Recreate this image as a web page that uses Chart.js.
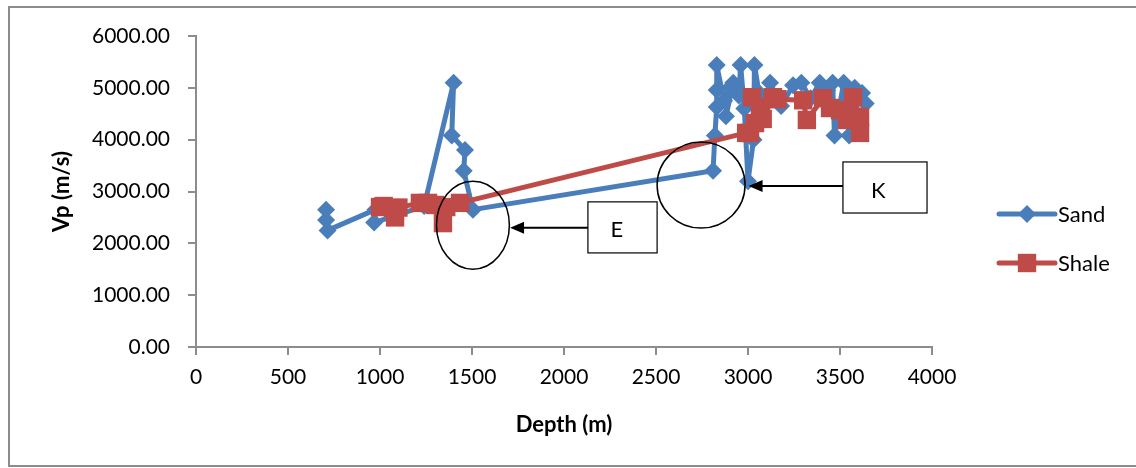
<!DOCTYPE html>
<html>
<head>
<meta charset="utf-8">
<title>Vp vs Depth</title>
<script src="https://cdn.jsdelivr.net/npm/chart.js@4.4.0/dist/chart.umd.min.js"></script>
<style>
  html, body { margin: 0; padding: 0; background: #fff; }
  #wrap { width: 1136px; height: 468px; }
</style>
</head>
<body>
<div id="wrap"><canvas id="vpChart" width="1136" height="468"></canvas></div>
<script>
// depth (m) and P-wave velocity (m/s) per lithology
const sandDepth = [707, 707, 715, 975, 968, 1240, 1400, 1390, 1462, 1455, 1505,
    2810, 2820, 2830, 2830, 2830, 2870, 2900, 2880, 2920, 2950, 2960, 2980, 3000,
    3030, 3035, 3060, 3090, 3120, 3180, 3245, 3290, 3340, 3390, 3430, 3460, 3470,
    3520, 3550, 3580, 3620, 3640];
const sandVp = [2650, 2450, 2250, 2650, 2400, 2720, 5100, 4080, 3800, 3400, 2650,
    3400, 4080, 4630, 4960, 5440, 4750, 5000, 4450, 5100, 4850, 5440, 4600, 3200,
    4000, 5440, 4900, 4750, 5100, 4650, 5050, 5100, 4800, 5100, 4950, 5100, 4080,
    5100, 4080, 5000, 4900, 4700];

const shaleDepth = [1000, 1020, 1071, 1082, 1100, 1217, 1261, 1300, 1342, 1360, 1435,
    2990, 3011, 3038, 3022, 3065, 3080, 3136, 3160, 3300, 3320, 3408, 3446, 3500,
    3538, 3571, 3609, 3609];
const shaleVp = [2700, 2720, 2680, 2500, 2690, 2780, 2780, 2740, 2390, 2700, 2780,
    4130, 4130, 4320, 4820, 4630, 4400, 4820, 4780, 4760, 4380, 4800, 4610, 4570,
    4380, 4820, 4440, 4130];

const depthTicks = [0, 500, 1000, 1500, 2000, 2500, 3000, 3500, 4000];
const vpTicks = [0, 1000, 2000, 3000, 4000, 5000, 6000];

// marked intervals: ellipse around the zone, label box and arrow pointing at it
const zones = [
    { label: 'E', cx: 1505, cy: 2350, rx: 198, ry: 850,
      box: [2130, 2800, 2506, 1815], arrowVp: 2300, tipDepth: 1707 },
    { label: 'K', cx: 2745, cy: 3125, rx: 239, ry: 830,
      box: [3516, 3570, 3973, 2585], arrowVp: 3106, tipDepth: 3003 }
];

const BLUE = '#4a7ebb';
const RED = '#be4b48';
const FONT = 'Lato, "Liberation Sans", sans-serif';

function pairs(xs, ys) {
    return xs.map((x, i) => ({ x: x, y: ys[i] }));
}

const framePlugin = {
    id: 'frame',
    beforeDraw(chart) {
        const ctx = chart.ctx;
        ctx.save();
        ctx.fillStyle = '#fff';
        ctx.fillRect(0, 0, chart.width, chart.height);
        ctx.strokeStyle = '#8c8c8c';
        ctx.lineWidth = 2;
        ctx.strokeRect(9, 7, chart.width + 10, chart.height - 9);
        ctx.restore();
    }
};

const zonePlugin = {
    id: 'zones',
    afterDatasetsDraw(chart) {
        const ctx = chart.ctx;
        const xs = chart.scales.x, ys = chart.scales.y;
        ctx.save();
        zones.forEach(z => {
            const cx = xs.getPixelForValue(z.cx), cy = ys.getPixelForValue(z.cy);
            const rx = xs.getPixelForValue(z.cx + z.rx) - cx;
            const ry = cy - ys.getPixelForValue(z.cy + z.ry);
            ctx.strokeStyle = '#000';
            ctx.lineWidth = 1.5;
            ctx.beginPath();
            ctx.ellipse(cx, cy, rx, ry, 0, 0, Math.PI * 2);
            ctx.stroke();

            const bx1 = xs.getPixelForValue(z.box[0]), by1 = ys.getPixelForValue(z.box[1]);
            const bx2 = xs.getPixelForValue(z.box[2]), by2 = ys.getPixelForValue(z.box[3]);
            ctx.fillStyle = '#fff';
            ctx.fillRect(bx1, by1, bx2 - bx1, by2 - by1);
            ctx.lineWidth = 1.2;
            ctx.strokeRect(bx1, by1, bx2 - bx1, by2 - by1);
            ctx.fillStyle = '#000';
            ctx.font = '22px ' + FONT;
            ctx.textAlign = 'center';
            ctx.textBaseline = 'middle';
            ctx.fillText(z.label, bx1 + (bx2 - bx1) * 0.42, (by1 + by2) / 2 + 3);

            // arrow from the box to the ellipse
            const ay = ys.getPixelForValue(z.arrowVp);
            const tip = xs.getPixelForValue(z.tipDepth);
            ctx.lineWidth = 2;
            ctx.beginPath();
            ctx.moveTo(bx1, ay);
            ctx.lineTo(tip + 12, ay);
            ctx.stroke();
            ctx.beginPath();
            ctx.moveTo(tip, ay);
            ctx.lineTo(tip + 14, ay - 6);
            ctx.lineTo(tip + 14, ay + 6);
            ctx.closePath();
            ctx.fill();
        });
        ctx.restore();
    }
};

const legendPlugin = {
    id: 'sideLegend',
    afterDraw(chart) {
        const ctx = chart.ctx;
        const x0 = 999, x1 = 1055;
        ctx.save();
        chart.data.datasets.forEach((ds, i) => {
            const y = 214 + i * 49;
            ctx.strokeStyle = ds.borderColor;
            ctx.lineWidth = 5;
            ctx.lineCap = 'round';
            ctx.beginPath();
            ctx.moveTo(x0, y);
            ctx.lineTo(x1, y);
            ctx.stroke();
            ctx.fillStyle = ds.backgroundColor;
            Chart.helpers.drawPoint(ctx, {
                pointStyle: ds.pointStyle, radius: ds.pointRadius, borderWidth: 0
            }, (x0 + x1) / 2, y);
            ctx.fillStyle = '#000';
            ctx.font = '22px ' + FONT;
            ctx.textAlign = 'left';
            ctx.textBaseline = 'middle';
            ctx.fillText(ds.label, x1 + 3, y + 1);
        });
        ctx.restore();
    }
};

const tickFont = { family: FONT, size: 21 };
const titleFont = { family: FONT, size: 22, weight: 'bold' };

new Chart(document.getElementById('vpChart'), {
    type: 'scatter',
    data: {
        datasets: [
            {
                label: 'Sand',
                data: pairs(sandDepth, sandVp),
                showLine: true,
                borderColor: BLUE,
                backgroundColor: BLUE,
                borderWidth: 5,
                borderJoinStyle: 'round',
                pointStyle: 'rectRot',
                pointRadius: 9,
                pointBorderWidth: 0,
                order: 1
            },
            {
                label: 'Shale',
                data: pairs(shaleDepth, shaleVp),
                showLine: true,
                borderColor: RED,
                backgroundColor: RED,
                borderWidth: 5,
                borderJoinStyle: 'round',
                pointStyle: 'rect',
                pointRadius: 13,
                pointBorderWidth: 0,
                order: 0
            }
        ]
    },
    options: {
        responsive: false,
        animation: false,
        layout: { padding: { left: 40, top: 36, right: 204, bottom: 30 } },
        plugins: {
            legend: { display: false },
            tooltip: { enabled: false }
        },
        scales: {
            x: {
                type: 'linear',
                min: 0,
                max: 4000,
                afterBuildTicks: axis => { axis.ticks = depthTicks.map(v => ({ value: v })); },
                afterFit: axis => { axis.height = 468 - 30 - 347; },
                grid: { drawOnChartArea: false, tickLength: 8, color: '#8c8c8c', lineWidth: 2 },
                border: { color: '#8c8c8c', width: 2 },
                ticks: { font: tickFont, color: '#000', padding: 10, maxRotation: 0, autoSkip: false,
                         callback: v => String(v) },
                title: { display: true, text: 'Depth (m)', font: titleFont, color: '#000', padding: { top: 4, bottom: 0 } }
            },
            y: {
                type: 'linear',
                min: 0,
                max: 6000,
                afterBuildTicks: axis => { axis.ticks = vpTicks.map(v => ({ value: v })); },
                afterFit: axis => { axis.width = 156; },
                grid: { drawOnChartArea: false, tickLength: 8, color: '#8c8c8c', lineWidth: 2 },
                border: { color: '#8c8c8c', width: 2 },
                ticks: { font: tickFont, color: '#000', padding: 18, callback: v => v.toFixed(2) },
                title: { display: true, text: 'Vp (m/s)', font: titleFont, color: '#000', padding: { top: 9, bottom: 0 } }
            }
        }
    },
    plugins: [framePlugin, zonePlugin, legendPlugin]
});
</script>
</body>
</html>
